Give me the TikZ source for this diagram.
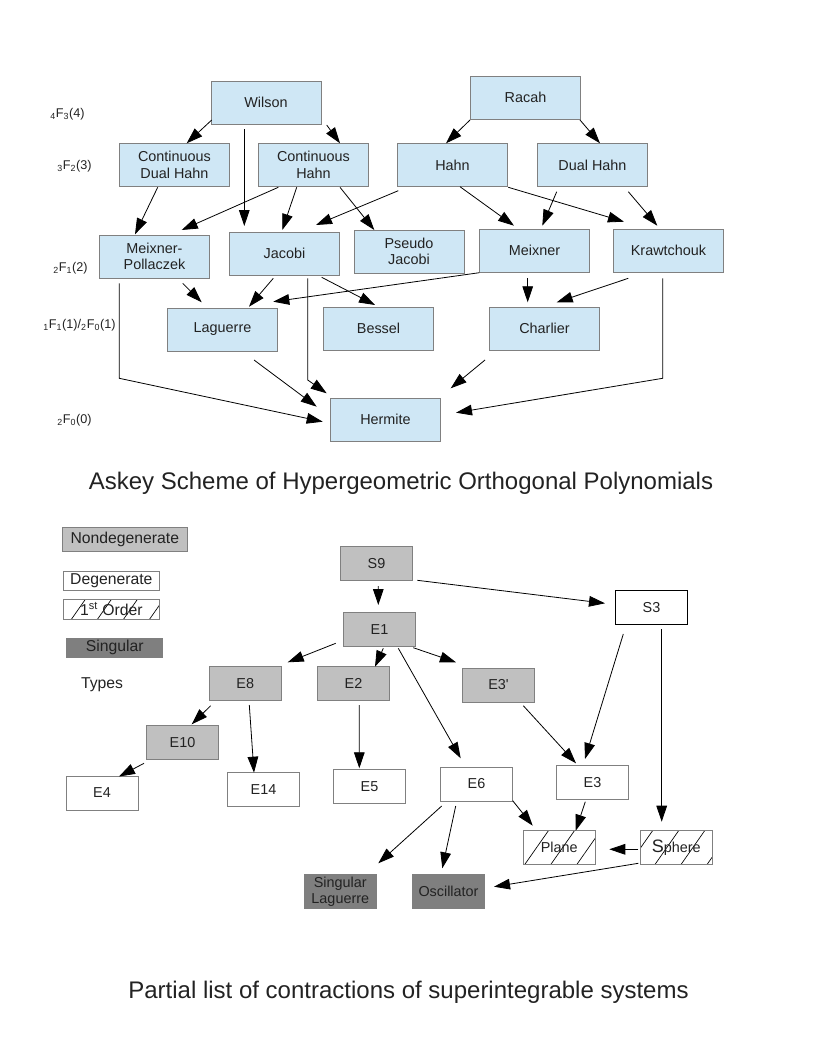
\documentclass[tikz,border=0pt]{standalone}
\usepackage{fontspec}
\setmainfont{Liberation Sans}
\usetikzlibrary{arrows.meta,calc,patterns.meta}
\definecolor{paleblue}{HTML}{CFE7F5}
\definecolor{boxline}{HTML}{808080}
\definecolor{nondeggray}{HTML}{C0C0C0}
\definecolor{singgray}{HTML}{7F7F7F}
\definecolor{inkgray}{HTML}{222222}
\newcommand{\hypf}[3]{\textsubscript{#1}F\textsubscript{#2}(#3)}
\begin{document}
\begin{tikzpicture}[x=0.75pt,y=-0.75pt,
  poly/.style={draw=boxline,fill=paleblue,text=inkgray,minimum width=82.5pt,minimum height=32.5pt,
    align=center,inner sep=1pt,font=\fontsize{10.8}{12.5}\selectfont},
  sys/.style={draw=boxline,text=inkgray,minimum width=54pt,minimum height=25.5pt,
    align=center,inner sep=1pt,font=\fontsize{10.8}{12.5}\selectfont},
  nondeg/.style={sys,fill=nondeggray},
  deg/.style={sys,fill=white},
  firstorder/.style={sys,pattern={Lines[angle=55,distance=16pt,line width=0.5pt]}},
  singbox/.style={sys,fill=singgray,draw=singgray},
  levellabel/.style={anchor=west,inner sep=0pt,text=inkgray,font=\fontsize{9.5}{11}\selectfont},
  legend/.style={inner sep=1pt,text=inkgray,font=\fontsize{11.8}{13}\selectfont},
  title/.style={text=inkgray,font=\fontsize{18}{22}\selectfont},
  arr/.style={-{Triangle[length=12pt,width=8pt]},line width=0.6pt},
  ]
\useasboundingbox (0,0) rectangle (816,1056);
% levels
\node[levellabel] (l4) at (50,114) {\hypf{4}{3}{4}};
\node[levellabel] (l3) at (57,166) {\hypf{3}{2}{3}};
\node[levellabel] (l2) at (53,268) {\hypf{2}{1}{2}};
\node[levellabel] (l1) at (43,325) {\hypf{1}{1}{1}/\hypf{2}{0}{1}};
\node[levellabel] (l0) at (57,420) {\hypf{2}{0}{0}};
% Askey scheme
\node[poly] (wilson) at (266,102.5) {Wilson};
\node[poly] (racah) at (525.5,97.5) {Racah};
\node[poly] (cdh) at (174.5,165) {Continuous\\Dual Hahn};
\node[poly] (ch) at (313.5,165) {Continuous\\Hahn};
\node[poly] (hahn) at (452.5,165) {Hahn};
\node[poly] (dhahn) at (592.5,165) {Dual Hahn};
\node[poly] (mp) at (154.5,256.5) {Meixner-\\Pollaczek};
\node[poly] (jacobi) at (284.5,253.5) {Jacobi};
\node[poly] (pjacobi) at (409,251.5) {Pseudo\\Jacobi};
\node[poly] (meixner) at (534.5,250.5) {Meixner};
\node[poly] (kraw) at (668.5,250.5) {Krawtchouk};
\node[poly] (laguerre) at (222.5,329.5) {Laguerre};
\node[poly] (bessel) at (378.5,328.5) {Bessel};
\node[poly] (charlier) at (544.5,328.5) {Charlier};
\node[poly] (hermite) at (385.5,419.5) {Hermite};
\draw[arr] ($(wilson)+(-54.3,17.5)$) -- ($(cdh)+(12.2,-21.7)$);
\draw[arr] ($(wilson)+(-21.7,26.8)$) -- ($(jacobi)+(-40.2,-27.5)$);
\draw[arr] ($(wilson)+(60.7,22.5)$) -- ($(ch)+(26.5,-21.7)$);
\draw[arr] ($(racah)+(-55.5,22.5)$) -- ($(hahn)+(-6.5,-21.7)$);
\draw[arr] ($(racah)+(54.5,22.5)$) -- ($(dhahn)+(7.5,-21.7)$);
\draw[arr] ($(cdh)+(-16.8,22.3)$) -- ($(mp)+(-19.5,-22.2)$);
\draw[arr] ($(ch)+(-35.2,22.3)$) -- ($(mp)+(27.2,-26.5)$);
\draw[arr] ($(ch)+(-16.8,22.3)$) -- ($(jacobi)+(-2.2,-23.5)$);
\draw[arr] ($(ch)+(26.5,22.3)$) -- ($(pjacobi)+(-34.7,-21.5)$);
\draw[arr] ($(hahn)+(-54.2,25.7)$) -- ($(jacobi)+(31.5,-28.5)$);
\draw[arr] ($(hahn)+(7.5,21.7)$) -- ($(meixner)+(-20.5,-24.8)$);
\draw[arr] ($(hahn)+(55.8,22.3)$) -- ($(kraw)+(-44.5,-28.8)$);
\draw[arr] ($(dhahn)+(-35.8,26.7)$) -- ($(meixner)+(7.8,-24.8)$);
\draw[arr] ($(dhahn)+(35.8,26.7)$) -- ($(kraw)+(-11.2,-24.8)$);
\draw[arr] ($(mp)+(28.2,26.8)$) -- ($(laguerre)+(-20.8,-27.2)$);
\draw[arr] ($(jacobi)+(-11.2,24.8)$) -- ($(laguerre)+(26.5,-22.8)$);
\draw[arr] ($(meixner)+(-55.2,22.2)$) -- ($(laguerre)+(50.8,-27.8)$);
\draw[arr] ($(jacobi)+(37.2,23.8)$) -- ($(bessel)+(-3.5,-23.5)$);
\draw[arr] ($(meixner)+(-6.8,27.8)$) -- ($(charlier)+(-16.8,-26.2)$);
\draw[arr] ($(kraw)+(-40.2,27.8)$) -- ($(charlier)+(12.2,-26.2)$);
\draw[arr] ($(mp)+(-35.2,26.8)$) -- ++(0,95) -- ($(hermite)+(-62.8,2.2)$);
\draw[arr] ($(jacobi)+(23.2,24.8)$) -- ++(0,101.7) -- ($(hermite)+(-58.8,-26.2)$);
\draw[arr] ($(laguerre)+(31.5,30.5)$) -- ($(hermite)+(-68.8,-12.8)$);
\draw[arr] ($(charlier)+(-59.5,31.5)$) -- ($(hermite)+(65.2,-31.2)$);
\draw[arr] ($(kraw)+(-5.8,27.8)$) -- ++(0,100) -- ($(hermite)+(70.5,-6.8)$);
\node[title] (askey) at (401,483) {Askey Scheme of Hypergeometric Orthogonal Polynomials};
% legend
\node[legend,draw=boxline,fill=nondeggray,minimum width=93.8pt,minimum height=18.3pt] (kind1) at (124.8,539.5) {Nondegenerate};
\node[legend,draw=boxline,fill=white,minimum width=72pt,minimum height=14.5pt] (kind2) at (111.3,580.7) {Degenerate};
\node[legend,draw=boxline,minimum width=72pt,minimum height=14.5pt,
  pattern={Lines[angle=55,distance=16pt,line width=0.5pt]}] (kind3) at (111.3,609.2) {1\textsuperscript{st} Order};
\node[legend,fill=singgray,minimum width=72.8pt,minimum height=15pt] (kind4) at (114.7,647.7) {Singular};
\node[legend] (types) at (102,685) {Types};
% contractions
\node[nondeg] (s9) at (376.5,563.3) {S9};
\node[nondeg] (e1) at (379.5,629.5) {E1};
\node[nondeg] (e8) at (245.3,683.5) {E8};
\node[nondeg] (e2) at (353.5,683.5) {E2};
\node[nondeg] (e3p) at (498.5,684.8) {E3\textquotesingle};
\node[nondeg] (e10) at (182.5,742.3) {E10};
\node[deg,draw=black,line width=0.8pt] (s3) at (651.5,607.3) {S3};
\node[deg] (e14) at (263.5,789.5) {E14};
\node[deg] (e5) at (369.5,786.5) {E5};
\node[deg] (e6) at (476.5,783.8) {E6};
\node[deg] (e4) at (102,793) {E4};
\node[deg] (e3) at (592.5,782.3) {E3};
\node[firstorder] (plane) at (559.3,847.7) {Plane};
\node[firstorder] (sphere) at (676.3,847.3) {{\fontsize{13.5}{13.5}\selectfont S}phere};
\node[singbox] (slag) at (340.3,891.7) {Singular\\Laguerre};
\node[singbox] (osc) at (448.5,891.3) {Oscillator};
\draw[arr] ($(s9)+(1.8,22.7)$) -- ($(e1)+(-1.2,-24.5)$);
\draw[arr] ($(s9)+(40.8,17)$) -- ($(s3)+(-46.5,-4)$);
\draw[arr] ($(e1)+(-43.8,13.8)$) -- ($(e8)+(42.4,-21.2)$);
\draw[arr] ($(e1)+(3.8,18.8)$) -- ($(e2)+(21.5,-16.8)$);
\draw[arr] ($(e1)+(33.8,18.2)$) -- ($(e3p)+(-42.5,-22.5)$);
\draw[arr] ($(e1)+(18.8,18.8)$) -- ($(e6)+(-15.8,-25.5)$);
\draw[arr] ($(e8)+(-34.6,22.2)$) -- ($(e10)+(9.2,-18)$);
\draw[arr] ($(e8)+(4,21.5)$) -- ($(e14)+(-9.5,-16.8)$);
\draw[arr] ($(e2)+(5.8,21.5)$) -- ($(e5)+(-10.2,-18.2)$);
\draw[arr] ($(e10)+(-38.5,21)$) -- ($(e4)+(17,-16.5)$);
\draw[arr] ($(e3p)+(24.8,20.9)$) -- ($(e3)+(-16.5,-19)$);
\draw[arr] ($(s3)+(-28.2,26.7)$) -- ($(e3)+(-7.5,-23.3)$);
\draw[arr] ($(s3)+(10.2,21.7)$) -- ($(sphere)+(-14.6,-25.6)$);
\draw[arr] ($(e6)+(36.2,16.9)$) -- ($(plane)+(-26.6,-22)$);
\draw[arr] ($(e3)+(-7.2,19.4)$) -- ($(plane)+(16.4,-17)$);
\draw[arr] ($(e6)+(-34.8,22.2)$) -- ($(slag)+(38,-28.4)$);
\draw[arr] ($(e6)+(-20.8,22.2)$) -- ($(osc)+(-6.2,-23)$);
\draw[arr] ($(sphere)+(-38,2)$) -- ($(plane)+(50,1.6)$);
\draw[arr] ($(sphere)+(-38,16)$) -- ($(osc)+(45.5,-4.6)$);
\node[title] (partial) at (408.5,992) {Partial list of contractions of superintegrable systems};
\end{tikzpicture}
\end{document}
